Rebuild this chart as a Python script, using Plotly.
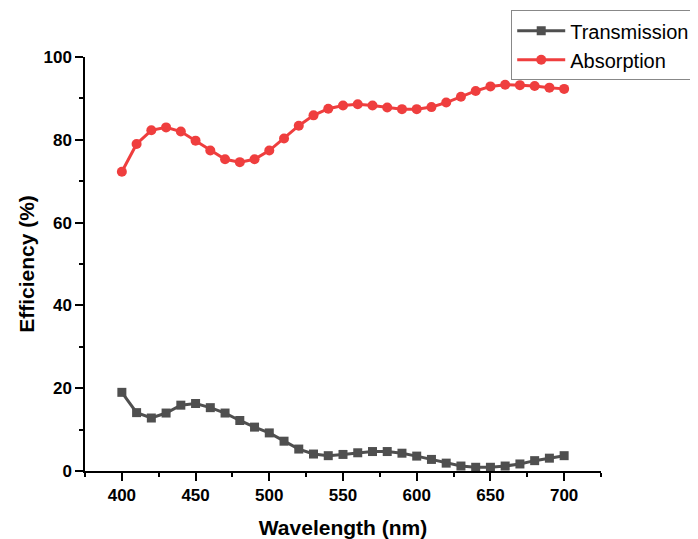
import plotly.graph_objects as go

wavelength = list(range(400, 701, 10))
transmission = [19.0, 14.1, 12.8, 14.0, 15.9, 16.3, 15.3, 14.0, 12.2, 10.6, 9.2, 7.2, 5.3, 4.1, 3.7,
                4.0, 4.4, 4.7, 4.7, 4.3, 3.6, 2.8, 1.9, 1.2, 0.9, 0.9, 1.2, 1.7, 2.5, 3.1, 3.7]
absorption = [72.3, 79.0, 82.3, 83.0, 82.0, 79.8, 77.4, 75.3, 74.6, 75.3, 77.4, 80.3, 83.4, 85.9, 87.5,
              88.3, 88.6, 88.3, 87.8, 87.4, 87.4, 87.9, 89.0, 90.4, 91.8, 92.9, 93.3, 93.2, 93.0, 92.6, 92.3]

FONT = "Liberation Sans, Arial, sans-serif"

fig = go.Figure()
fig.add_trace(go.Scatter(x=wavelength, y=transmission, name="Transmission", mode="lines+markers",
                         line=dict(color="#4f4f4f", width=3),
                         marker=dict(symbol="square", size=9, color="#4f4f4f")))
fig.add_trace(go.Scatter(x=wavelength, y=absorption, name="Absorption", mode="lines+markers",
                         line=dict(color="#ef3e3e", width=3),
                         marker=dict(symbol="circle", size=10, color="#ef3e3e")))

# page has an 8px body margin, so the figure is sized/offset to compensate
fig.update_layout(
    width=690, height=531,
    margin=dict(l=77, r=97, t=49, b=68, autoexpand=False),
    plot_bgcolor="white", paper_bgcolor="white",
    font=dict(family=FONT, color="black"),
    showlegend=True,
    legend=dict(x=0.826, y=1.113, xanchor="left", yanchor="top",
                bordercolor="#888888", borderwidth=1, bgcolor="white",
                font=dict(size=20, family=FONT), tracegroupgap=0,
                itemwidth=48),
    xaxis=dict(range=[375, 725], tickvals=[400, 450, 500, 550, 600, 650, 700],
               showgrid=False, zeroline=False, showline=True, linecolor="black", linewidth=1.5,
               ticks="outside", ticklen=8, tickwidth=1.5, tickcolor="black",
               minor=dict(dtick=25, tick0=375, ticks="outside", ticklen=4, tickwidth=1.5, tickcolor="black"),
               tickfont=dict(size=17, family=FONT, weight="bold"),
               title=dict(text="<b>Wavelength (nm)</b>", font=dict(size=21, family=FONT), standoff=16)),
    yaxis=dict(range=[0, 100], tickvals=[0, 20, 40, 60, 80, 100],
               showgrid=False, zeroline=False, showline=True, linecolor="black", linewidth=1.5,
               ticks="outside", ticklen=8, tickwidth=1.5, tickcolor="black",
               minor=dict(dtick=10, tick0=0, ticks="outside", ticklen=4, tickwidth=1.5, tickcolor="black"),
               tickfont=dict(size=17, family=FONT, weight="bold"),
               title=dict(text="<b>Efficiency (%)</b>", font=dict(size=21, family=FONT), standoff=3)),
)

fig.write_html("out.html")
